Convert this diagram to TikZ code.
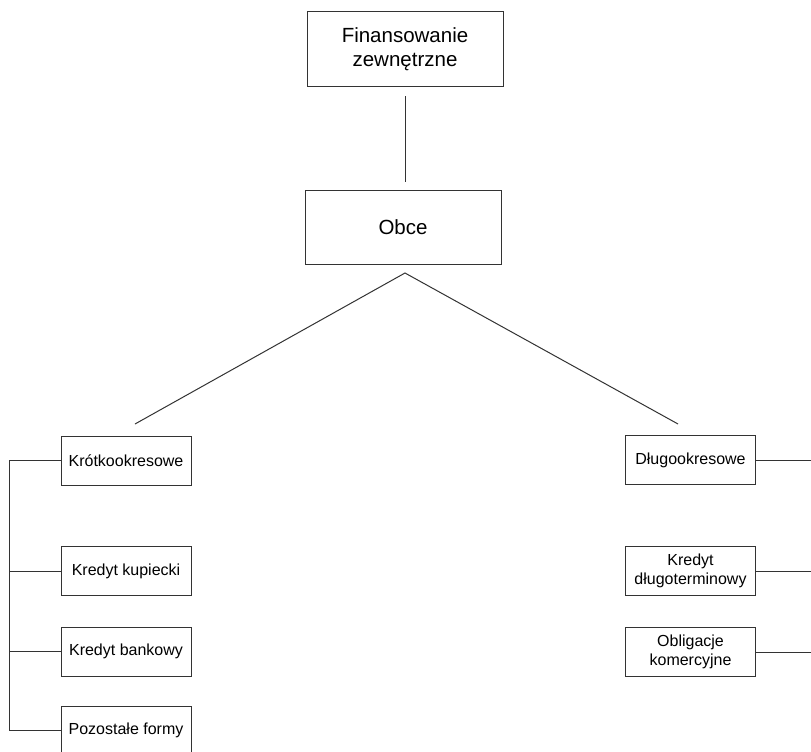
\documentclass[tikz,border=0pt]{standalone}
\usepackage{fontspec}
\setmainfont{Liberation Sans}
\begin{document}
\begin{tikzpicture}[x=1pt,y=-1pt,
  line width=1pt, draw=black!80,
  bigbox/.style={draw=black!80, line width=1pt, minimum width=196pt, minimum height=74pt, align=center, inner sep=0pt, font=\fontsize{20.5}{23.5}\selectfont},
  smallbox/.style={draw=black!80, line width=1pt, minimum width=130pt, minimum height=49pt, align=center, inner sep=0pt, font=\fontsize{16}{19}\selectfont},
  conn/.style={draw=black!80, line width=1pt}]
\useasboundingbox (0,0) rectangle (811,752);
\fill[white] (0,0) rectangle (811,752);
\node[bigbox] (fin) at (405,49) {Finansowanie\\zewnętrzne};
\node[bigbox] (obce) at (403,227.5) {Obce};
\node[smallbox] (krot) at (126,460.5) {Krótkookresowe};
\node[smallbox] (kup) at (126,571) {Kredyt kupiecki};
\node[smallbox] (bank) at (126,651.5) {Kredyt bankowy};
\node[smallbox] (poz) at (126,730.5) {Pozostałe formy};
\node[smallbox] (dlug) at (690.5,460) {Długookresowe};
\node[smallbox] (kdt) at (690.5,571) {Kredyt\\długoterminowy};
\node[smallbox] (obl) at (690.5,652) {Obligacje\\komercyjne};
\coordinate (t1) at (405,96);
\coordinate (t2) at (405,182);
\coordinate (apex) at (405,273);
\coordinate (lend) at (135,424);
\coordinate (rend) at (678,424);
\coordinate (bustop) at (9,459);
\coordinate (busbot) at (9,731);
\draw[conn] (t1) -- (t2);
\draw[conn] (lend) -- (apex) -- (rend);
\draw[conn] (krot.west) -- (krot.west -| bustop) -- (poz.west -| busbot) -- (poz.west);
\draw[conn] (kup.west) -- (kup.west -| bustop);
\draw[conn] (bank.west) -- (bank.west -| bustop);
\coordinate (redge) at (811,0);
\draw[conn] (dlug.east) -- (dlug.east -| redge);
\draw[conn] (kdt.east) -- (kdt.east -| redge);
\draw[conn] (obl.east) -- (obl.east -| redge);
\end{tikzpicture}
\end{document}
